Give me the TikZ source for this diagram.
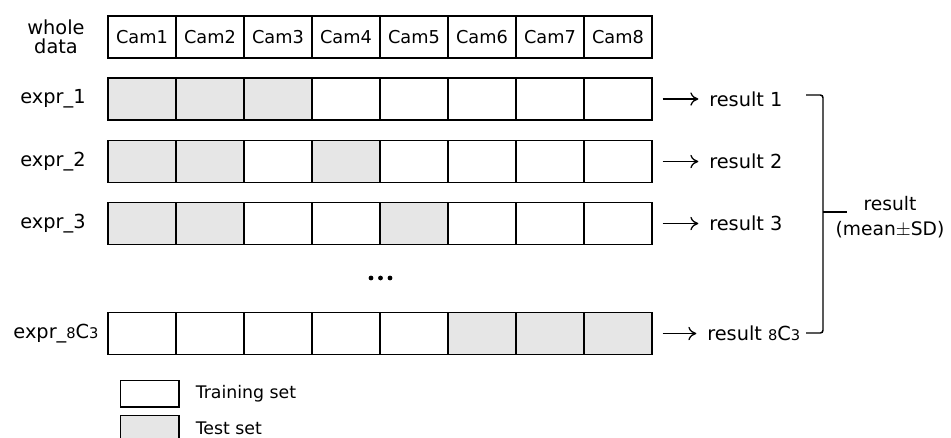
\documentclass[tikz,border=0pt]{standalone}
\usepackage{fontspec}
\setmainfont{DejaVu Sans}
\usetikzlibrary{arrows.meta, positioning, calc}
\definecolor{testgray}{HTML}{E6E6E6}

\begin{document}
\begin{tikzpicture}[x=0.75pt, y=-0.75pt,
      trn/.style={rectangle, draw=black, fill=white, line width=1pt, minimum width=51pt, minimum height=31.5pt, inner sep=0pt, font=\fontsize{13.3}{15}\selectfont},
      tst/.style={trn, fill=testgray},
      lbl/.style={inner sep=0pt, font=\fontsize{14.5}{16}\selectfont},
      small/.style={inner sep=0pt, font=\fontsize{13}{15}\selectfont},
      legbox/.style={rectangle, draw=black, line width=1pt, minimum width=44pt, minimum height=20pt, inner sep=0pt},
      arr/.style={-{To[length=6pt, width=10pt]}, line width=1pt, shorten <=7.5pt, shorten >=8pt},
      brk/.style={line width=1.1pt, rounded corners=2pt}
    ]
      \useasboundingbox (0,0) rectangle (951,437);

      % whole data row
      \node[lbl, align=center, font=\fontsize{14.5}{14}\selectfont] (whole) at (56,37) {whole\\data};
      \foreach \i in {1,...,8}
        \node[trn] (w-\i) at (74+68*\i,37) {Cam\i};

      % experiments
      \foreach \r/\y/\pat in {1/99/{tst,tst,tst,trn,trn,trn,trn,trn},
                              2/161.5/{tst,tst,trn,tst,trn,trn,trn,trn},
                              3/223.5/{tst,tst,trn,trn,tst,trn,trn,trn},
                              4/333.5/{trn,trn,trn,trn,trn,tst,tst,tst}}
        \foreach \s [count=\i] in \pat
          \node[\s] (e\r-\i) at (74+68*\i,\y) {};

      \node[lbl] (lab1) at (53,99) {expr\_1};
      \node[lbl] (lab2) at (53,161.5) {expr\_2};
      \node[lbl] (lab3) at (53,223.5) {expr\_3};
      \node[lbl] (lab4) at (56,333.5) {expr\_{\fontsize{11}{12}\selectfont 8}C{\fontsize{11}{12}\selectfont 3}};

      % dots
      \foreach \x in {371,380.5,390}
        \fill (\x,278) circle[radius=1.8pt];

      % results
      \node[lbl, anchor=west] (res1) at (709,99) {result 1};
      \node[lbl, anchor=west] (res2) at (709,161.5) {result 2};
      \node[lbl, anchor=west] (res3) at (709,223.5) {result 3};
      \node[lbl, anchor=west] (res4) at (707,333.5) {result {\fontsize{11}{12}\selectfont 8}C{\fontsize{11}{12}\selectfont 3}};

      \draw[arr] (e1-8.east) -- (res1.west);
      \draw[arr] (e2-8.east) -- (res2.west);
      \draw[arr] (e3-8.east) -- (res3.west);
      \draw[arr] (e4-8.east) -- (res4.west);

      % bracket
      \coordinate (btop) at (806,95);
      \coordinate (bbot) at (806,333);
      \coordinate (bmid) at (823,212);
      \node[lbl, align=center, font=\fontsize{14}{18.75}\selectfont] (final) at (890,217) {result\\(mean$\pm$SD)};
      \draw[brk] (btop) -- (btop -| bmid) -- (bbot -| bmid) -- (bbot);
      \draw[line width=1.1pt] (bmid) -- (847,212);

      % legend
      \node[legbox] (legtrain) at (149.5,393.5) {};
      \node[legbox, fill=testgray] (legtest) at (149.5,428.5) {};
      \node[small, right=12pt of legtrain] (txttrain) {Training set};
      \node[small, right=12pt of legtest] (txttest) {Test set};
    \end{tikzpicture}
\end{document}
